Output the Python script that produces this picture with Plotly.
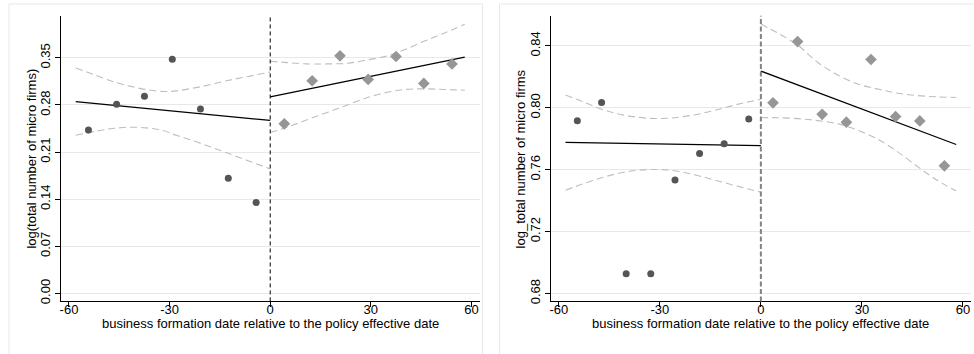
import plotly.graph_objects as go

# ---------------- data: left panel ----------------
L_pre_x = [-54.2, -45.8, -37.5, -29.2, -20.8, -12.5, -4.2]
L_pre_y = [0.243, 0.281, 0.293, 0.348, 0.274, 0.171, 0.135]
L_post_x = [4.2, 12.5, 20.8, 29.2, 37.5, 45.8, 54.2]
L_post_y = [0.252, 0.316, 0.353, 0.318, 0.352, 0.312, 0.341]

L_fit_pre_x = [-58, 0]
L_fit_pre_y = [0.285, 0.257]
L_fit_post_x = [0, 58]
L_fit_post_y = [0.292, 0.351]

L_ci_pre_x = [-58, -52, -47, -42, -37, -32, -28, -23, -18, -13, -7, 0]
L_ci_pre_hi = [0.335, 0.324, 0.315, 0.308, 0.303, 0.300, 0.301, 0.305, 0.310, 0.316, 0.322, 0.329]
L_ci_pre_lo = [0.235, 0.241, 0.245, 0.247, 0.246, 0.242, 0.235, 0.227, 0.218, 0.209, 0.198, 0.185]
L_ci_post_x = [0, 5, 11, 17, 23, 29, 35, 40, 46, 52, 58]
L_ci_post_hi = [0.345, 0.343, 0.341, 0.341, 0.342, 0.347, 0.353, 0.362, 0.375, 0.387, 0.400]
L_ci_post_lo = [0.239, 0.247, 0.258, 0.269, 0.280, 0.291, 0.299, 0.303, 0.304, 0.303, 0.302]

L_yticks = [0.00, 0.07, 0.14, 0.21, 0.28, 0.35]
L_ylabels = ["0.00", "0.07", "0.14", "0.21", "0.28", "0.35"]
L_ytitle = "log(total number of micro firms)"

# ---------------- data: right panel ----------------
R_pre_x = [-54.5, -47.3, -40.0, -32.7, -25.5, -18.2, -10.9, -3.6]
R_pre_y = [0.7917, 0.8035, 0.6928, 0.6928, 0.7533, 0.7705, 0.7767, 0.7928]
R_post_x = [3.6, 10.9, 18.2, 25.4, 32.7, 40.0, 47.2, 54.5]
R_post_y = [0.8032, 0.8428, 0.7958, 0.7907, 0.8312, 0.7943, 0.7915, 0.7625]

R_fit_pre_x = [-58, 0]
R_fit_pre_y = [0.7776, 0.7755]
R_fit_post_x = [0, 58]
R_fit_post_y = [0.8237, 0.7763]

R_ci_pre_x = [-58, -53, -48, -43, -38, -33, -28, -23, -18, -13, -7, 0]
R_ci_pre_hi = [0.8082, 0.8041, 0.7996, 0.7964, 0.7943, 0.7932, 0.7932, 0.7943, 0.7962, 0.7987, 0.8022, 0.8055]
R_ci_pre_lo = [0.7468, 0.7507, 0.7543, 0.7573, 0.7593, 0.7601, 0.7599, 0.7584, 0.7558, 0.7529, 0.7494, 0.7455]
R_ci_post_x = [0, 5, 11, 17, 23, 29, 35, 40, 46, 52, 58]
R_ci_post_hi = [0.8541, 0.8483, 0.8404, 0.8291, 0.8210, 0.8152, 0.8120, 0.8096, 0.8080, 0.8071, 0.8067]
R_ci_post_lo = [0.7936, 0.7936, 0.7930, 0.7917, 0.7896, 0.7853, 0.7793, 0.7725, 0.7629, 0.7537, 0.7462]

R_yticks = [0.68, 0.72, 0.76, 0.80, 0.84]
R_ylabels = ["0.68", "0.72", "0.76", "0.80", "0.84"]
R_ytitle = "log_total number of micro firms"

X_ticks = [-60, -30, 0, 30, 60]
X_labels = ["-60", "-30", "0", "30", "60"]
X_title = "business formation date relative to the policy effective date"

# ---------------- styling ----------------
W, H = 974, 354
FONT = "Liberation Sans, Arial, Helvetica, sans-serif"
DOT = "rgb(85,85,85)"
DIA = "rgb(150,150,150)"
CI = "rgb(190,190,190)"
GRID = "rgb(232,232,232)"

fig = go.Figure()


def add_panel(xa, ya, pre_x, pre_y, post_x, post_y, fpx, fpy, fqx, fqy,
              cpx, cphi, cplo, cqx, cqhi, cqlo):
    common = dict(xaxis=xa, yaxis=ya, showlegend=False, hoverinfo="skip")
    for cx, cy in [(cpx, cphi), (cpx, cplo), (cqx, cqhi), (cqx, cqlo)]:
        fig.add_trace(go.Scatter(x=cx, y=cy, mode="lines", line_shape="spline",
                                 line=dict(color=CI, width=1.1, dash="7px,4px"), **common))
    fig.add_trace(go.Scatter(x=fpx, y=fpy, mode="lines",
                             line=dict(color="black", width=1.3), **common))
    fig.add_trace(go.Scatter(x=fqx, y=fqy, mode="lines",
                             line=dict(color="black", width=1.3), **common))
    fig.add_trace(go.Scatter(x=pre_x, y=pre_y, mode="markers",
                             marker=dict(symbol="circle", size=7, color=DOT), **common))
    fig.add_trace(go.Scatter(x=post_x, y=post_y, mode="markers",
                             marker=dict(symbol="diamond", size=9, color=DIA), **common))


add_panel("x", "y", L_pre_x, L_pre_y, L_post_x, L_post_y,
          L_fit_pre_x, L_fit_pre_y, L_fit_post_x, L_fit_post_y,
          L_ci_pre_x, L_ci_pre_hi, L_ci_pre_lo, L_ci_post_x, L_ci_post_hi, L_ci_post_lo)
add_panel("x2", "y2", R_pre_x, R_pre_y, R_post_x, R_post_y,
          R_fit_pre_x, R_fit_pre_y, R_fit_post_x, R_fit_post_y,
          R_ci_pre_x, R_ci_pre_hi, R_ci_pre_lo, R_ci_post_x, R_ci_post_hi, R_ci_post_lo)

ydom = [(H - 304) / H, (H - 16) / H]

xcommon = dict(range=[-62.4, 62.4], tickvals=X_ticks, ticktext=X_labels,
               showgrid=False, zeroline=False, showline=True, linecolor="black",
               linewidth=1, ticks="outside", ticklen=5, tickcolor="black",
               ticklabelstandoff=-9,
               tickfont=dict(family=FONT, size=13, color="black"))
ycommon = dict(showgrid=True, gridcolor=GRID, gridwidth=1, zeroline=False,
               showline=True, linecolor="black", linewidth=1, ticks="outside",
               ticklen=5, tickcolor="black", tickangle=-90,
               tickfont=dict(family=FONT, size=13, color="black"))

fig.update_layout(
    width=W, height=H,
    margin=dict(l=0, r=0, t=0, b=0),
    paper_bgcolor="white", plot_bgcolor="white",
    font=dict(family=FONT, size=13, color="black"),
    xaxis=dict(domain=[60 / W, 479 / W], anchor="y", **xcommon),
    yaxis=dict(domain=ydom, anchor="x", range=[-0.0118, 0.4124],
               tickvals=L_yticks, ticktext=L_ylabels, **ycommon),
    xaxis2=dict(domain=[550.3 / W, 971 / W], anchor="y2", **xcommon),
    yaxis2=dict(domain=ydom, anchor="x2", range=[0.6749, 0.8594],
                tickvals=R_yticks, ticktext=R_ylabels, **ycommon),
)

# vertical reference lines at 0
fig.add_shape(type="line", xref="x", yref="y domain", x0=0, x1=0, y0=0, y1=1,
              line=dict(color="black", width=1, dash="4px,3px"))
fig.add_shape(type="line", xref="x2", yref="y2 domain", x0=0, x1=0, y0=0, y1=1,
              line=dict(color="rgb(130,130,130)", width=2, dash="5px,2.5px"))

# panel frames
fig.add_shape(type="rect", xref="paper", yref="paper",
              x0=8 / W, x1=482 / W, y0=-0.02, y1=(H - 4) / H,
              line=dict(color="rgb(232,232,232)", width=1), layer="below")
fig.add_shape(type="rect", xref="paper", yref="paper",
              x0=499 / W, x1=1.02, y0=-0.02, y1=(H - 4) / H,
              line=dict(color="rgb(232,232,232)", width=1), layer="below")

# axis titles
TY = (H - 326) / H
fig.add_annotation(text=X_title, xref="paper", yref="paper",
                   x=269.5 / W, y=TY, showarrow=False,
                   xanchor="center", yanchor="middle", font=dict(size=13))
fig.add_annotation(text=X_title, xref="paper", yref="paper",
                   x=760.6 / W, y=TY, showarrow=False,
                   xanchor="center", yanchor="middle", font=dict(size=13))
fig.add_annotation(text=L_ytitle, xref="paper", yref="paper",
                   x=31 / W, y=(H - 160) / H, showarrow=False, textangle=-90,
                   xanchor="center", yanchor="middle", font=dict(size=13))
fig.add_annotation(text=R_ytitle, xref="paper", yref="paper",
                   x=520.3 / W, y=(H - 160) / H, showarrow=False, textangle=-90,
                   xanchor="center", yanchor="middle", font=dict(size=13))

fig.write_html("out.html", config={"displayModeBar": False},
               post_script="document.body.style.margin='0px';document.body.style.overflow='hidden';")
